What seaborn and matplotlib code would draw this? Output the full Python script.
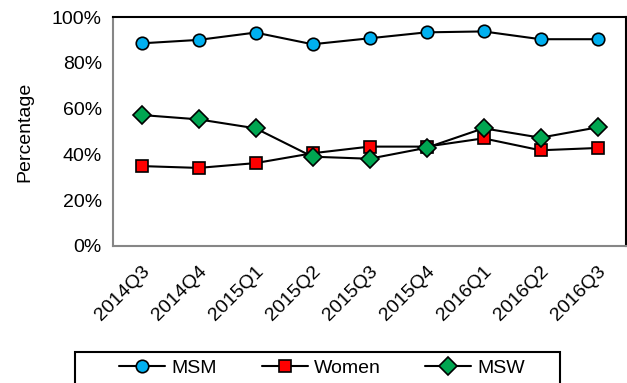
import matplotlib
matplotlib.use("Agg")
import matplotlib.pyplot as plt
import seaborn as sns
from matplotlib.patches import Rectangle
from matplotlib.ticker import FixedLocator, PercentFormatter

quarters = ["2014Q3", "2014Q4", "2015Q1", "2015Q2", "2015Q3", "2015Q4", "2016Q1", "2016Q2", "2016Q3"]
msm = [88.5, 90.0, 93.2, 88.1, 90.7, 93.3, 93.7, 90.3, 90.3]
women = [34.9, 34.1, 36.2, 40.5, 43.4, 43.4, 47.0, 41.8, 42.8]
msw = [57.2, 55.3, 51.4, 39.0, 38.1, 42.9, 51.4, 47.3, 51.8]
yticks = [0, 20, 40, 60, 80, 100]

sns.set_style("white")
plt.rcParams['font.family'] = ['Liberation Sans', 'DejaVu Sans']
plt.rcParams['text.color'] = 'black'
plt.rcParams['axes.labelcolor'] = 'black'

FS = 14

fig = plt.figure(figsize=(6.27, 3.83), dpi=100)
ax = fig.add_axes([113/627, 137/383, 513/627, 229/383])

x = list(range(len(quarters)))
series = [
    ("MSM", msm, "o", "#00B0F0", 9.0),
    ("Women", women, "s", "#FF0000", 9.0),
    ("MSW", msw, "D", "#00A651", 9.0),
]
for name, vals, mk, col, ms in series:
    sns.lineplot(x=x, y=vals, ax=ax, color="black", linewidth=1.5, marker=mk,
                 markersize=ms, markerfacecolor=col, markeredgecolor="black",
                 markeredgewidth=1.2, label=name)

ax.set_xlim(-0.5, len(quarters) - 0.5)
ax.set_ylim(0, 100)
ax.set_yticks(yticks)
ax.yaxis.set_major_formatter(PercentFormatter(decimals=0))
ax.set_xticks(x)
ax.set_xticklabels(quarters, rotation=45, ha="right", va="top", rotation_mode="anchor", fontsize=FS)
ax.xaxis.set_minor_locator(FixedLocator([i - 0.5 for i in range(len(quarters) + 1)]))
ax.tick_params(axis="x", which="major", length=0, pad=12, labelcolor="black")
ax.tick_params(axis="x", which="minor", length=11, width=1.5, color="#868686", direction="inout")
ax.tick_params(axis="y", which="major", length=6, width=1.5, color="#868686", direction="out",
               labelsize=FS, pad=2, labelcolor="black")
ax.set_ylabel("Percentage", fontsize=FS)
ax.yaxis.set_label_coords(-0.156, 0.5)

for s in ["left", "bottom"]:
    ax.spines[s].set_color("#868686")
    ax.spines[s].set_linewidth(1.5)
for s in ["top", "right"]:
    ax.spines[s].set_color("black")
    ax.spines[s].set_linewidth(1.5)
ax.grid(False)

handles, labels = ax.get_legend_handles_labels()
ax.get_legend().remove()
fig.legend(handles, labels, loc="center", bbox_to_anchor=(322/627, 15/383),
           ncol=3, frameon=False, fontsize=FS, handlelength=2.37, handletextpad=0.3,
           columnspacing=2.3, borderpad=0, borderaxespad=0)
fig.patches.append(Rectangle((75/627, -5/383), 485/627, 36/383, transform=fig.transFigure,
                             fill=False, edgecolor="black", linewidth=1.5, figure=fig))

fig.savefig("out.png", dpi=100)
